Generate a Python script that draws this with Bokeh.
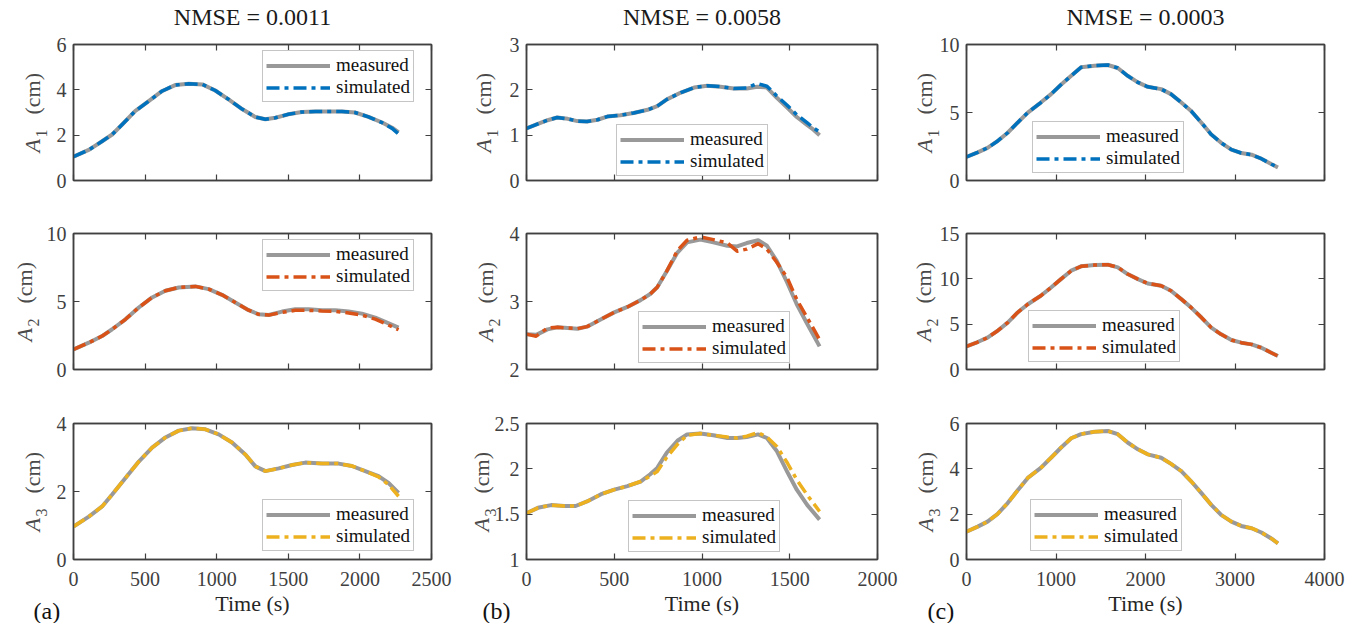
import math
from bokeh.plotting import figure
from bokeh.models import Range1d, LinearAxis, FixedTicker, Label, Legend, LegendItem
from bokeh.layouts import row, column
from bokeh.embed import file_html
from bokeh.resources import INLINE

FONT = "Liberation Serif"

# ---------------- data ----------------
titles = ["NMSE = 0.0011", "NMSE = 0.0058", "NMSE = 0.0003"]
tags = ["(a)", "(b)", "(c)"]
x_label = "Time (s)"
series_names = ["measured", "simulated"]

# column (a)
t_a1 = [0, 110, 200, 270, 340, 430, 525, 620, 710, 805, 900, 990, 1085, 1180, 1270, 1340, 1410,
        1500, 1595, 1690, 1780, 1875, 1965, 2060, 2155, 2225, 2270]
a1_meas = [1.05, 1.36, 1.73, 2.03, 2.47, 3.06, 3.5, 3.95, 4.21, 4.27, 4.24, 3.97, 3.57, 3.14, 2.8,
           2.7, 2.77, 2.92, 3.02, 3.04, 3.04, 3.04, 3.0, 2.81, 2.56, 2.33, 2.12]
a1_sim = [1.05, 1.36, 1.73, 2.03, 2.47, 3.06, 3.5, 3.95, 4.21, 4.27, 4.24, 3.97, 3.57, 3.14, 2.8,
          2.7, 2.77, 2.92, 3.02, 3.04, 3.04, 3.04, 3.0, 2.81, 2.55, 2.3, 2.05]
t_a2 = [0, 107, 200, 270, 363, 456, 549, 642, 735, 851, 944, 1037, 1130, 1223, 1293, 1363, 1456,
        1549, 1642, 1735, 1828, 1921, 2014, 2107, 2177, 2270]
a2_meas = [1.48, 1.97, 2.46, 2.96, 3.69, 4.56, 5.3, 5.79, 6.03, 6.11, 5.91, 5.49, 4.93, 4.36, 4.06,
           4.01, 4.26, 4.43, 4.43, 4.36, 4.36, 4.26, 4.11, 3.82, 3.5, 3.08]
a2_sim = [1.48, 1.97, 2.46, 2.96, 3.69, 4.56, 5.3, 5.79, 6.03, 6.11, 5.91, 5.49, 4.93, 4.36, 4.06,
          4.0, 4.2, 4.35, 4.35, 4.3, 4.28, 4.16, 4.0, 3.7, 3.38, 2.92]
t_a3 = [0, 107, 200, 270, 363, 456, 549, 642, 735, 828, 921, 1014, 1107, 1200, 1270, 1340, 1433,
        1526, 1619, 1735, 1851, 1944, 2037, 2130, 2200, 2270]
a3_meas = [0.97, 1.26, 1.56, 1.91, 2.4, 2.88, 3.29, 3.59, 3.79, 3.86, 3.83, 3.68, 3.44, 3.09, 2.74,
           2.6, 2.68, 2.78, 2.85, 2.82, 2.82, 2.75, 2.6, 2.45, 2.25, 1.96]
a3_sim = [0.97, 1.26, 1.56, 1.91, 2.4, 2.88, 3.29, 3.59, 3.79, 3.86, 3.83, 3.68, 3.44, 3.09, 2.74,
          2.6, 2.68, 2.78, 2.85, 2.82, 2.82, 2.75, 2.6, 2.43, 2.2, 1.86]

# column (b)
t_b1 = [0, 65, 120, 175, 235, 290, 345, 405, 460, 535, 610, 690, 745, 800, 880, 955, 1030, 1105,
        1180, 1255, 1315, 1370, 1425, 1485, 1540, 1600, 1635, 1670]
b1_meas = [1.15, 1.25, 1.33, 1.39, 1.36, 1.31, 1.3, 1.34, 1.41, 1.44, 1.49, 1.56, 1.64, 1.79, 1.94,
           2.05, 2.09, 2.07, 2.03, 2.03, 2.07, 2.05, 1.83, 1.61, 1.4, 1.22, 1.12, 1.0]
b1_sim = [1.15, 1.25, 1.33, 1.39, 1.36, 1.31, 1.3, 1.34, 1.41, 1.44, 1.49, 1.56, 1.64, 1.79, 1.94,
          2.05, 2.09, 2.07, 2.03, 2.04, 2.14, 2.08, 1.87, 1.66, 1.45, 1.27, 1.16, 1.07]
t_b2 = [0, 55, 120, 175, 235, 290, 345, 425, 500, 575, 650, 705, 745, 800, 860, 915, 990, 1065,
        1145, 1200, 1255, 1320, 1370, 1425, 1485, 1540, 1600, 1670]
b2_meas = [2.52, 2.51, 2.59, 2.62, 2.61, 2.6, 2.63, 2.74, 2.84, 2.92, 3.02, 3.11, 3.21, 3.45, 3.72,
           3.87, 3.91, 3.87, 3.82, 3.81, 3.86, 3.9, 3.82, 3.6, 3.28, 2.96, 2.67, 2.34]
b2_sim = [2.52, 2.49, 2.61, 2.62, 2.61, 2.6, 2.63, 2.74, 2.84, 2.92, 3.02, 3.11, 3.21, 3.45, 3.75,
          3.9, 3.95, 3.91, 3.86, 3.74, 3.77, 3.85, 3.77, 3.58, 3.35, 3.03, 2.76, 2.44]
t_b3 = [0, 65, 140, 215, 280, 345, 425, 500, 575, 650, 705, 745, 800, 860, 915, 990, 1065, 1145,
        1200, 1255, 1320, 1370, 1425, 1485, 1540, 1600, 1670]
b3_meas = [1.51, 1.57, 1.6, 1.59, 1.59, 1.64, 1.72, 1.77, 1.81, 1.86, 1.94, 2.01, 2.18, 2.31, 2.38,
           2.39, 2.37, 2.34, 2.34, 2.35, 2.38, 2.34, 2.2, 1.97, 1.77, 1.6, 1.44]
b3_sim = [1.51, 1.57, 1.6, 1.59, 1.59, 1.64, 1.72, 1.77, 1.81, 1.86, 1.92, 1.97, 2.13, 2.27, 2.37,
          2.39, 2.37, 2.35, 2.34, 2.36, 2.4, 2.35, 2.25, 2.07, 1.88, 1.71, 1.53]

# column (c)
t_c = [0, 125, 235, 345, 460, 570, 685, 830, 945, 1055, 1170, 1280, 1430, 1580, 1690, 1800, 1915,
       2025, 2175, 2285, 2400, 2510, 2625, 2735, 2845, 2960, 3070, 3185, 3295, 3405, 3480]
c1_meas = [1.73, 2.07, 2.4, 2.89, 3.51, 4.25, 4.99, 5.73, 6.35, 7.04, 7.7, 8.32, 8.44, 8.49, 8.27,
           7.7, 7.21, 6.89, 6.72, 6.35, 5.73, 5.11, 4.25, 3.38, 2.77, 2.27, 2.02, 1.9, 1.6, 1.21, 0.96]
c1_sim = [1.73, 2.07, 2.4, 2.89, 3.51, 4.25, 4.99, 5.73, 6.35, 7.04, 7.7, 8.32, 8.44, 8.49, 8.27,
          7.7, 7.21, 6.89, 6.72, 6.35, 5.73, 5.11, 4.25, 3.38, 2.77, 2.27, 2.02, 1.9, 1.6, 1.21, 0.96]
c2_meas = [2.55, 3.03, 3.51, 4.25, 5.17, 6.28, 7.2, 8.13, 9.05, 9.97, 10.9, 11.38, 11.52, 11.56,
           11.27, 10.53, 9.97, 9.49, 9.24, 8.68, 7.76, 6.83, 5.73, 4.62, 3.88, 3.25, 2.96, 2.77, 2.4,
           1.85, 1.48]
c2_sim = [2.55, 3.03, 3.51, 4.25, 5.17, 6.28, 7.2, 8.13, 9.05, 9.97, 10.9, 11.38, 11.52, 11.56,
          11.27, 10.53, 9.97, 9.49, 9.24, 8.68, 7.76, 6.83, 5.73, 4.62, 3.88, 3.25, 2.96, 2.77, 2.4,
          1.85, 1.48]
c3_meas = [1.23, 1.45, 1.67, 2.0, 2.49, 3.04, 3.6, 4.04, 4.49, 4.93, 5.35, 5.53, 5.64, 5.67, 5.53,
           5.16, 4.86, 4.64, 4.49, 4.22, 3.9, 3.45, 2.93, 2.41, 1.97, 1.67, 1.48, 1.38, 1.19, 0.93, 0.71]
c3_sim = [1.23, 1.45, 1.67, 2.0, 2.49, 3.04, 3.6, 4.04, 4.49, 4.93, 5.35, 5.53, 5.64, 5.67, 5.53,
          5.16, 4.86, 4.64, 4.49, 4.22, 3.9, 3.45, 2.93, 2.41, 1.97, 1.67, 1.48, 1.38, 1.19, 0.93, 0.71]

# axis ticks
x_ticks = [[0, 500, 1000, 1500, 2000, 2500], [0, 500, 1000, 1500, 2000], [0, 1000, 2000, 3000, 4000]]
y_ticks = [
    [[0, 2, 4, 6], [0, 5, 10], [0, 2, 4]],
    [[0, 1, 2, 3], [2, 3, 4], [1, 1.5, 2, 2.5]],
    [[0, 5, 10], [0, 5, 10, 15], [0, 2, 4, 6]],
]
subscripts = ["1", "2", "3"]

sim_colors = ["#0072BD", "#D95319", "#EDB120"]
meas_color = "#999999"

columns_data = [
    [(t_a1, a1_meas, a1_sim), (t_a2, a2_meas, a2_sim), (t_a3, a3_meas, a3_sim)],
    [(t_b1, b1_meas, b1_sim), (t_b2, b2_meas, b2_sim), (t_b3, b3_meas, b3_sim)],
    [(t_c, c1_meas, c1_sim), (t_c, c2_meas, c2_sim), (t_c, c3_meas, c3_sim)],
]

# ---------------- layout ----------------
col_geom = [(73, 358, 35), (60, 351, 31), (58, 358, 36)]   # left border, frame width, right border
row_geom = [(44, 136, 28), (25, 136, 29), (25, 136, 64)]   # top border, frame height, bottom border
legend_loc = [
    [(189, 78), (189, 78), (189, 8)],
    [(90, 4), (112, 6), (102, 7)],
    [(66, 7), (62, 7), (64, 8)],
]
ylab_x = [[-41, -49, -41], [-43, -41, -45], [-42, -43, -41]]
tag_x = [-40, -44, -39]

AX = "#404040"


def fmt(v):
    return str(int(v)) if float(v).is_integer() else str(v)


def style_axis(ax, ticks, show_labels, standoff=7):
    ax.ticker = FixedTicker(ticks=ticks)
    ax.major_tick_in = 6
    ax.major_tick_out = 0
    ax.minor_tick_line_color = None
    ax.axis_line_color = AX
    ax.axis_line_width = 1.5
    ax.major_tick_line_color = AX
    ax.major_tick_line_width = 1.2
    ax.major_label_text_font = FONT
    if show_labels:
        ax.major_label_overrides = {t: fmt(t) for t in ticks}
        ax.major_label_text_color = AX
        ax.major_label_text_font_size = "20px"
        ax.major_label_standoff = standoff
    else:
        ax.major_label_text_color = None
        ax.major_label_text_font_size = "1px"
        ax.major_label_standoff = 0


cols = []
for ci in range(3):
    lb, fw, rb = col_geom[ci]
    xt = x_ticks[ci]
    figs = []
    for ri in range(3):
        tb, fh, bb = row_geom[ri]
        t, meas, sim = columns_data[ci][ri]
        yt = y_ticks[ci][ri]
        p = figure(frame_width=fw, frame_height=fh,
                   min_border_left=lb, min_border_right=rb,
                   min_border_top=tb, min_border_bottom=bb,
                   x_range=Range1d(xt[0], xt[-1]), y_range=Range1d(yt[0], yt[-1]),
                   output_backend="svg", toolbar_location=None)
        p.xgrid.visible = False
        p.ygrid.visible = False
        p.outline_line_color = AX
        p.outline_line_width = 1.5
        p.background_fill_color = "white"
        p.border_fill_color = "white"

        bottom = ri == 2
        xb = p.xaxis[0]
        style_axis(xb, xt, bottom, standoff=12)
        style_axis(p.yaxis[0], yt, True, standoff=7)
        top_ax = LinearAxis()
        style_axis(top_ax, xt, False)
        p.add_layout(top_ax, "above")
        right_ax = LinearAxis()
        style_axis(right_ax, yt, False)
        p.add_layout(right_ax, "right")

        if bottom:
            xb.axis_label = x_label
            xb.axis_label_text_font = FONT
            xb.axis_label_text_font_size = "22px"
            xb.axis_label_text_font_style = "normal"
            xb.axis_label_text_color = "#262626"
            xb.axis_label_standoff = 2
            p.add_layout(Label(x=xt[0], y=yt[0], x_offset=tag_x[ci], y_offset=-51,
                               text=tags[ci], text_font=FONT, text_font_size="24px",
                               text_color="#111111", text_align="left",
                               text_baseline="alphabetic"), "right")

        if ri == 0:
            p.add_layout(Label(x=(xt[0] + xt[-1]) / 2, y=yt[-1], y_offset=28,
                               text=titles[ci], text_font=FONT, text_font_size="24px",
                               text_color="#1a1a1a", text_align="center",
                               text_baseline="alphabetic"), "above")

        r1 = p.line(t, meas, line_color=meas_color, line_width=4, line_join="round")
        r2 = p.line(t, sim, line_color=sim_colors[ri], line_width=3.5, line_dash="13 5 4 5",
                    line_join="round")

        leg = Legend(items=[LegendItem(label=series_names[0], renderers=[r1]),
                            LegendItem(label=series_names[1], renderers=[r2])],
                     location=legend_loc[ci][ri], margin=0, padding=3, spacing=0,
                     glyph_width=64, glyph_height=19, label_height=19, label_standoff=6,
                     label_text_font=FONT, label_text_font_size="19px",
                     label_text_color="#111111",
                     border_line_color="#8c8c8c", border_line_width=1,
                     background_fill_color="white", background_fill_alpha=1)
        p.add_layout(leg)

        # y label: italic A, subscript digit, (cm); placed in side panels so they are not clipped
        dx = ylab_x[ci][ri]
        side = "above" if bottom else "below"
        common = dict(x=xt[0], y=yt[0], text_font=FONT, text_color="#4a4a4a",
                      angle=math.pi / 2, text_align="left", text_baseline="alphabetic")
        p.add_layout(Label(x_offset=dx, y_offset=28, text="A", text_font_style="italic",
                           text_font_size="22px", **common), side)
        p.add_layout(Label(x_offset=dx + 9, y_offset=43, text=subscripts[ri],
                           text_font_size="16px", **common), side)
        p.add_layout(Label(x_offset=dx, y_offset=66, text="(cm)", text_font_size="22px",
                           **common), "left")
        figs.append(p)
    cols.append(column(*figs))

layout = row(*cols)
open("out.html", "w").write(file_html(layout, INLINE))
